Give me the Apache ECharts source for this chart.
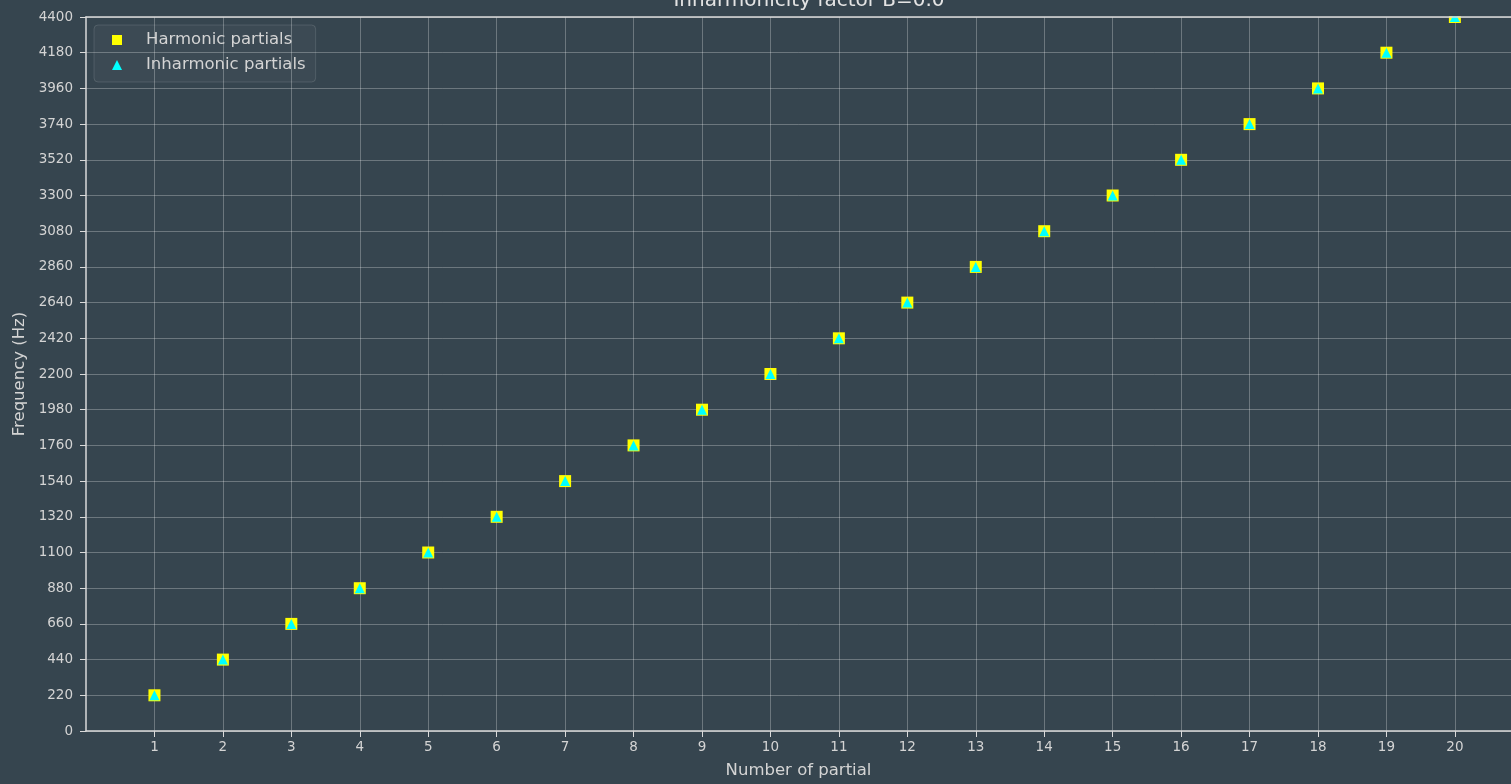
<!DOCTYPE html>
<html>
<head>
<meta charset="utf-8">
<script src="https://cdn.jsdelivr.net/npm/echarts@6/dist/echarts.min.js"></script>
<style>
html,body{margin:0;padding:0;background:#36454f;}
#c{width:1511px;height:784px;}
</style>
</head>
<body>
<div id="c"></div>
<script>
const partials = [1,2,3,4,5,6,7,8,9,10,11,12,13,14,15,16,17,18,19,20];
const harmonicHz = [220,440,660,880,1100,1320,1540,1760,1980,2200,2420,2640,2860,3080,3300,3520,3740,3960,4180,4400];
const inharmonicHz = [220,440,660,880,1100,1320,1540,1760,1980,2200,2420,2640,2860,3080,3300,3520,3740,3960,4180,4400];
const titleText = 'Inharmonicity factor B=0.0';

const chart = echarts.init(document.getElementById('c'));
const font = 'DejaVu Sans';
const txt = '#d4d4d4';
const spine = '#dadada';
const gridCol = 'rgba(255,255,255,0.27)';
const X_MIN = 0, X_MAX = 20.82;
chart.setOption({
  backgroundColor: '#36454f',
  animation: false,
  textStyle: {fontFamily: font},
  title: {
    text: titleText, left: 804, textAlign: 'center', top: -14, z: 200, zlevel: 0,
    textStyle: {color: '#e4e4e4', fontSize: 20, fontWeight: 'normal', fontFamily: font}
  },
  graphic: {
    z: 100,
    elements: [{
      type: 'rect', z: 100, silent: true,
      shape: {x: 86, y: 0, width: 1425, height: 16.3},
      style: {fill: '#36454f'}
    }]
  },
  legend: {
    orient: 'vertical', left: 94, top: 25, z: 150,
    padding: [5, 10, 7, 18],
    itemGap: 5, itemWidth: 10, itemHeight: 10,
    backgroundColor: 'rgba(255,255,255,0.03)',
    borderColor: 'rgba(255,255,255,0.12)', borderWidth: 1, borderRadius: 4,
    textStyle: {color: txt, fontSize: 16.5, lineHeight: 20, fontFamily: font, padding: [0,0,0,19]},
    data: [
      {name: 'Harmonic partials', icon: 'rect'},
      {name: 'Inharmonic partials', icon: 'triangle'}
    ]
  },
  grid: {
    left: 86, top: 17, bottom: 53, right: 0,
    show: false, containLabel: false
  },
  xAxis: [{
    type: 'value', min: X_MIN, max: X_MAX, interval: 1,
    name: 'Number of partial', nameLocation: 'middle', nameGap: 31,
    nameTextStyle: {color: txt, fontSize: 16.5, fontFamily: font},
    axisLine: {show: true, onZero: false, lineStyle: {color: spine, width: 1.5}},
    axisTick: {show: true, length: 6, lineStyle: {color: spine}, customValues: partials},
    axisLabel: {color: txt, fontSize: 13.5, margin: 9, fontFamily: font, customValues: partials},
    splitLine: {show: true, lineStyle: {color: gridCol, width: 1}, customValues: partials}
  }, {
    type: 'value', min: X_MIN, max: X_MAX, position: 'top', z: 120,
    axisLine: {show: true, onZero: false, lineStyle: {color: spine, width: 1.5}},
    axisTick: {show: false}, axisLabel: {show: false}, splitLine: {show: false}
  }],
  yAxis: {
    type: 'value', min: 0, max: 4400, interval: 220,
    name: 'Frequency (Hz)', nameLocation: 'middle', nameGap: 58,
    nameTextStyle: {color: txt, fontSize: 16.5, fontFamily: font},
    axisLine: {show: true, onZero: false, lineStyle: {color: spine, width: 1.5}},
    axisTick: {show: true, length: 6, lineStyle: {color: spine}},
    axisLabel: {color: txt, fontSize: 13.5, margin: 13, fontFamily: font, formatter: v => String(v)},
    splitLine: {show: true, lineStyle: {color: gridCol, width: 1}}
  },
  series: [
    {
      name: 'Harmonic partials', type: 'scatter', symbol: 'rect', symbolSize: 12,
      itemStyle: {color: '#ffff00', opacity: 1},
      data: partials.map((p, i) => [p, harmonicHz[i]]), z: 2
    },
    {
      name: 'Inharmonic partials', type: 'scatter', symbol: 'triangle', symbolSize: 10,
      itemStyle: {color: '#00ffff', opacity: 1},
      data: partials.map((p, i) => [p, inharmonicHz[i]]), z: 3
    }
  ]
});
</script>
</body>
</html>
